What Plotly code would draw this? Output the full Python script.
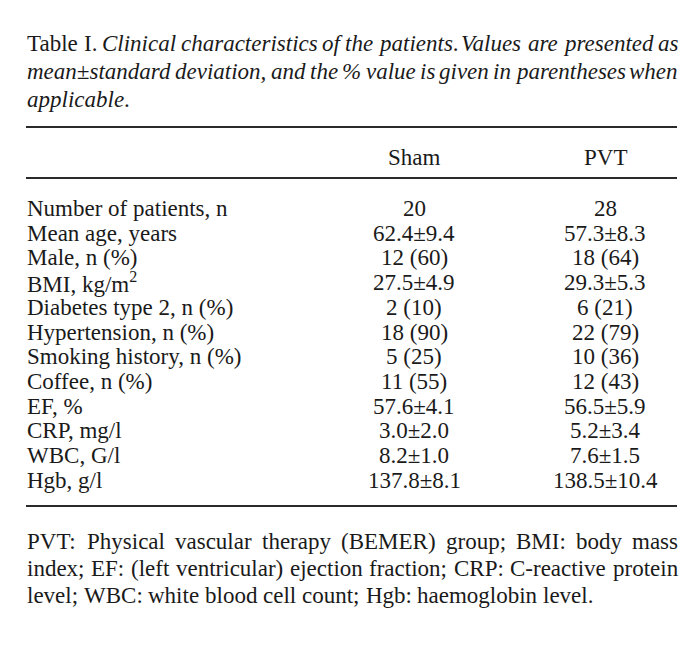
import glob, struct
import plotly.graph_objects as go

# ---------------- data ----------------
caption_lines = [
    [("Table", "r"), ("I.", "r"), ("Clinical", "i"), ("characteristics", "i"), ("of", "i"),
     ("the", "i"), ("patients", "i", "."), ("Values", "i"), ("are", "i"), ("presented", "i"), ("as", "i")],
    [("mean±standard", "i"), ("deviation,", "i"), ("and", "i"), ("the", "i"), ("%", "i"), ("value", "i"),
     ("is", "i"), ("given", "i"), ("in", "i"), ("parentheses", "i"), ("when", "i")],
    [("applicable", "i", ".")],
]
caption_justify = [True, True, False]

col_headers = ["Sham", "PVT"]
row_labels = ["Number of patients, n", "Mean age, years", "Male, n (%)", "BMI, kg/m<sup>2</sup>",
              "Diabetes type 2, n (%)", "Hypertension, n (%)", "Smoking history, n (%)",
              "Coffee, n (%)", "EF, %", "CRP, mg/l", "WBC, G/l", "Hgb, g/l"]
sham_values = ["20", "62.4±9.4", "12 (60)", "27.5±4.9", "2 (10)", "18 (90)", "5 (25)",
               "11 (55)", "57.6±4.1", "3.0±2.0", "8.2±1.0", "137.8±8.1"]
pvt_values = ["28", "57.3±8.3", "18 (64)", "29.3±5.3", "6 (21)", "22 (79)", "10 (36)",
              "12 (43)", "56.5±5.9", "5.2±3.4", "7.6±1.5", "138.5±10.4"]

footnote_lines = [
    "PVT: Physical vascular therapy (BEMER) group; BMI: body mass",
    "index; EF: (left ventricular) ejection fraction; CRP: C-reactive protein",
    "level; WBC: white blood cell count; Hgb: haemoglobin level.",
]
footnote_justify = [True, True, False]

# ---------------- layout constants (page pixel coordinates) ----------------
W, H = 697, 663
PAGE_OFF = 8  # default body margin of the html page
FS = 23
FAMILY = "Liberation Serif, Times New Roman, serif"
INK = "#1a1a1a"
LEFT, RIGHT = 26, 677
caption_mid = [43, 71, 99]
rule_top, rule_head, rule_bottom = 127, 178, 506
header_mid = 157
row_mid0, row_step = 208.5, 24.7
foot_mid = [541, 568, 595]
col_x = [414, 605]


# ---------------- font metrics (for justified lines) ----------------
def load_metrics(pattern):
    paths = glob.glob("/usr/share/fonts/**/" + pattern, recursive=True)
    if not paths:
        return None
    data = open(paths[0], "rb").read()
    n = struct.unpack(">H", data[4:6])[0]
    tables = {}
    for i in range(n):
        tag, cs, off, ln = struct.unpack(">4sIII", data[12 + 16 * i:28 + 16 * i])
        tables[tag.decode("latin1")] = off
    upem = struct.unpack(">H", data[tables["head"] + 18:tables["head"] + 20])[0]
    hh = tables["hhea"]
    nhm = struct.unpack(">H", data[hh + 34:hh + 36])[0]
    hm = tables["hmtx"]
    adv = [struct.unpack(">H", data[hm + 4 * i:hm + 4 * i + 2])[0] for i in range(nhm)]
    cm = tables["cmap"]
    nsub = struct.unpack(">H", data[cm + 2:cm + 4])[0]
    sub = None
    for i in range(nsub):
        pid, eid, off = struct.unpack(">HHI", data[cm + 4 + 8 * i:cm + 12 + 8 * i])
        if pid == 3 and eid == 1:
            sub = cm + off
            break
    segx2 = struct.unpack(">H", data[sub + 6:sub + 8])[0]
    seg = segx2 // 2
    ends = struct.unpack(">%dH" % seg, data[sub + 14:sub + 14 + segx2])
    starts = struct.unpack(">%dH" % seg, data[sub + 16 + segx2:sub + 16 + 2 * segx2])
    deltas = struct.unpack(">%dh" % seg, data[sub + 16 + 2 * segx2:sub + 16 + 3 * segx2])
    rpos = sub + 16 + 3 * segx2
    roffs = struct.unpack(">%dH" % seg, data[rpos:rpos + segx2])

    def glyph(ch):
        c = ord(ch)
        for i in range(seg):
            if starts[i] <= c <= ends[i]:
                if roffs[i] == 0:
                    return (c + deltas[i]) & 0xFFFF
                addr = rpos + 2 * i + roffs[i] + 2 * (c - starts[i])
                g = struct.unpack(">H", data[addr:addr + 2])[0]
                return (g + deltas[i]) & 0xFFFF if g else 0
        return 0

    def width(s, size):
        tot = 0
        for ch in s:
            g = glyph(ch)
            tot += adv[g] if g < nhm else adv[-1]
        return tot * size / upem
    return width


w_reg = load_metrics("LiberationSerif-Regular.ttf") or (lambda s, size: len(s) * 0.45 * size)
w_ita = load_metrics("LiberationSerif-Italic.ttf") or (lambda s, size: len(s) * 0.42 * size)

annotations = []


def add_text(x, ymid, text, anchor="left"):
    annotations.append(dict(x=x, y=ymid, xref="x", yref="y", text=text,
                            xanchor=anchor, yanchor="middle", showarrow=False,
                            font=dict(family=FAMILY, size=FS, color=INK)))


def place_words(words, ymid, justify):
    total = sum(w for _, w in words)
    space = w_reg(" ", FS)
    gap = (RIGHT - LEFT - total) / (len(words) - 1) if (justify and len(words) > 1) else space
    x = LEFT - 1  # compensate annotation border padding
    for html, w in words:
        add_text(x, ymid, html)
        x += w + gap


# caption
for line, just, ym in zip(caption_lines, caption_justify, caption_mid):
    words = []
    for tok in line:
        txt, style = tok[0], tok[1]
        tail = tok[2] if len(tok) > 2 else ""
        if style == "i":
            html = "<i>%s</i>%s" % (txt, tail)
            w = w_ita(txt, FS) + w_reg(tail, FS)
        else:
            html = txt + tail
            w = w_reg(txt + tail, FS)
        words.append((html, w))
    place_words(words, ym, just)

# header
for x, h in zip(col_x, col_headers):
    add_text(x, header_mid, h, "center")

# body
for i, lab in enumerate(row_labels):
    ym = row_mid0 + i * row_step
    add_text(LEFT - 1, ym, lab, "left")
    add_text(col_x[0], ym, sham_values[i], "center")
    add_text(col_x[1], ym, pvt_values[i], "center")

# footnote
for line, just, ym in zip(footnote_lines, footnote_justify, foot_mid):
    words = [(t, w_reg(t, FS)) for t in line.split(" ")]
    place_words(words, ym, just)

shapes = [dict(type="line", xref="x", yref="y", x0=LEFT, x1=RIGHT, y0=y, y1=y,
               line=dict(color="#2a2a2a", width=2)) for y in (rule_top, rule_head, rule_bottom)]

fig = go.Figure()
fig.add_trace(go.Scatter(x=[PAGE_OFF, W], y=[PAGE_OFF, H], mode="markers", marker=dict(opacity=0),
                         hoverinfo="skip", showlegend=False))
fig.update_layout(
    width=W - PAGE_OFF, height=H - PAGE_OFF, margin=dict(l=0, r=0, t=0, b=0, pad=0),
    paper_bgcolor="white", plot_bgcolor="white",
    xaxis=dict(range=[PAGE_OFF, W], visible=False, fixedrange=True),
    yaxis=dict(range=[H, PAGE_OFF], visible=False, fixedrange=True),
    annotations=annotations, shapes=shapes, showlegend=False,
)
fig.write_html("out.html")
